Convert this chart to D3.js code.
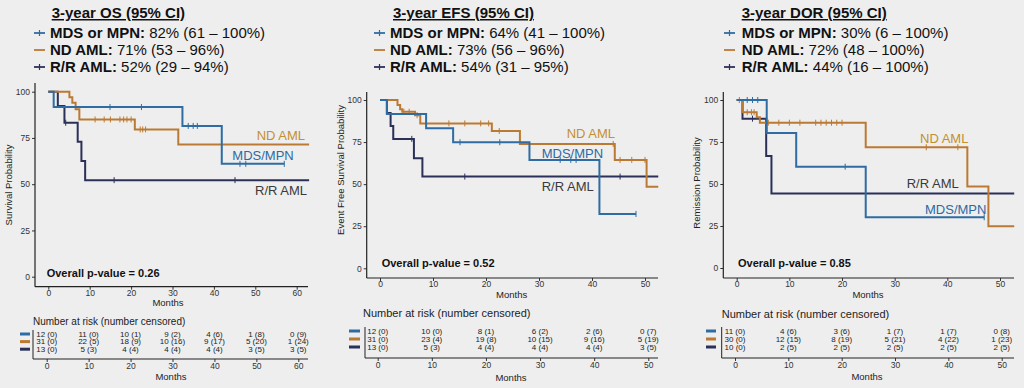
<!DOCTYPE html>
<html>
<head>
<meta charset="utf-8">
<script src="https://cdn.jsdelivr.net/npm/d3@7"></script>
<style>
  body { margin: 0; background: #eeeeee; font-family: "Liberation Sans", Arial, sans-serif; }
  svg { display: block; }
</style>
</head>
<body>
<div id="chart"></div>
<script>
// groups and colours
const headerNames = ["MDS or MPN", "ND AML", "R/R AML"];
const curveLabels = ["MDS/MPN", "ND AML", "R/R AML"];
const colors = ["#2e6ca3", "#bb7a33", "#2b3058"];
const labelColors = ["#2d6aa3", "#c4902f", "#3a3a3a"];

// ---- OS ----
const osEstimates = ["82% (61 \u2013 100%)", "71% (53 \u2013 96%)", "52% (29 \u2013 94%)"];
const osMds = [[0, 100], [1.3, 91.7], [32.4, 81.5], [41.9, 61]];
const osNd = [[0, 100], [5.1, 97], [5.8, 94], [6.6, 90.5], [7.5, 85], [20.9, 79.6], [31.4, 71.5]];
const osRr = [[0, 100], [2.3, 92.3], [3.9, 83.2], [7.1, 73], [8.0, 62.5], [8.9, 52.2]];
const osEnd = [57, 63, 63];
const osMdsCens = [14.9, 22.5, 33.8, 35, 36, 46.3, 47.7, 57];
const osNdCens = [11.3, 13.5, 15, 17.3, 18.2, 19, 20, 22.2, 22.8, 23.5];
const osRrCens = [4.2, 15.9, 45.1];
const osTicks = [0, 10, 20, 30, 40, 50, 60];
const osRiskMds = ["12 (0)", "11 (0)", "10 (1)", "9 (2)", "4 (6)", "1 (8)", "0 (9)"];
const osRiskNd = ["31 (0)", "22 (5)", "18 (9)", "10 (16)", "9 (17)", "5 (20)", "1 (24)"];
const osRiskRr = ["13 (0)", "5 (3)", "4 (4)", "4 (4)", "4 (4)", "3 (5)", "3 (5)"];

// ---- EFS ----
const efsEstimates = ["64% (41 \u2013 100%)", "73% (56 \u2013 96%)", "54% (31 \u2013 95%)"];
const efsMds = [[0, 100], [1.3, 91.7], [8.7, 83.2], [13.8, 74.9], [28.2, 64.4], [41.4, 32.3]];
const efsNd = [[0, 100], [3.3, 97], [3.8, 94.5], [4.2, 93], [6.6, 91], [7.6, 86.1], [21.1, 81.6], [26.4, 73.9], [44.3, 64.4], [50.3, 48.5]];
const efsRr = [[0, 100], [1.3, 92.3], [2.0, 84.6], [2.5, 76.9], [6.4, 65.4], [8.0, 54.5]];
const efsEnd = [48.3, 52.5, 52.5];
const efsMdsCens = [15.1, 22.6, 34, 36, 37, 48.3];
const efsNdCens = [4.5, 5.5, 7.0, 13, 16, 19, 20.5, 22.5, 44, 45.3, 47.5, 50];
const efsRrCens = [6.0, 16, 45.3];
const efsTicks = [0, 10, 20, 30, 40, 50];
const efsRiskMds = ["12 (0)", "10 (0)", "8 (1)", "6 (2)", "2 (6)", "0 (7)"];
const efsRiskNd = ["31 (0)", "23 (4)", "19 (8)", "10 (15)", "9 (16)", "5 (19)"];
const efsRiskRr = ["13 (0)", "5 (3)", "4 (4)", "4 (4)", "4 (4)", "3 (5)"];

// ---- DOR ----
const dorEstimates = ["30% (6 \u2013 100%)", "72% (48 \u2013 100%)", "44% (16 \u2013 100%)"];
const dorMds = [[0, 100], [5.7, 80.4], [11.3, 60.3], [24.5, 30.2]];
const dorNd = [[0, 100], [1.1, 92.7], [3.8, 89.7], [4.4, 86.5], [24.5, 71.9], [43.8, 48.5], [47.8, 24.8]];
const dorRr = [[0, 100], [1.1, 88.9], [5.6, 66.7], [6.6, 44.4]];
const dorEnd = [47, 52.7, 52.7];
const dorMdsCens = [2, 3, 4, 20.6, 47];
const dorNdCens = [0.5, 2, 2.8, 3.3, 6, 8, 10, 12, 15, 16, 17, 18, 19, 20, 36, 42];
const dorRrCens = [3.0];
const dorTicks = [0, 10, 20, 30, 40, 50];
const dorRiskMds = ["11 (0)", "4 (6)", "3 (6)", "1 (7)", "1 (7)", "0 (8)"];
const dorRiskNd = ["30 (0)", "12 (15)", "8 (19)", "5 (21)", "4 (22)", "1 (23)"];
const dorRiskRr = ["10 (0)", "2 (5)", "2 (5)", "2 (5)", "2 (5)", "2 (5)"];

const yTicks = [0, 25, 50, 75, 100];

const svg = d3.select("#chart").append("svg")
  .attr("width", 1024).attr("height", 388)
  .style("font-family", '"Liberation Sans", Arial, sans-serif');

svg.append("rect").attr("width", 1024).attr("height", 388).attr("fill", "#eeeeee");

const panels = [
  {
    title: "3-year OS (95% CI)", est: osEstimates,
    curves: [osMds, osNd, osRr], ends: osEnd, cens: [osMdsCens, osNdCens, osRrCens],
    risk: [osRiskMds, osRiskNd, osRiskRr], ticks: osTicks,
    ylab: "Survival Probability", pval: "Overall p-value = 0.26",
    L: { titleX: 51.7, hx: 50, symX: 33, x0: 48.3, x1: 296.7, left: 35, right: 308, top: 83, bot: 286.7,
         y100: 91.7, y0: 276.7, ylabX: 9, ylabY: 185, pX: 46.7, pY: 272.7, monthsX: 168, monthsY: 303,
         labels: [[232.3, 155], [256.7, 135], [255, 190]],
         rTitleX: 33, rTitleY: 321.7, rTitleFs: 10, rRows: [334, 341.6, 349.2], rAxisY: 359,
         rLeft: 33, rRight: 308, rx0: 46.7, rx1: 298.3, bar: [20, 30], rMonthsX: 171, rMonthsY: 377 }
  },
  {
    title: "3-year EFS (95% CI)", est: efsEstimates,
    curves: [efsMds, efsNd, efsRr], ends: efsEnd, cens: [efsMdsCens, efsNdCens, efsRrCens],
    risk: [efsRiskMds, efsRiskNd, efsRiskRr], ticks: efsTicks,
    ylab: "Event Free Survival Probability", pval: "Overall p-value = 0.52",
    L: { titleX: 393, hx: 390, symX: 373, x0: 380, x1: 645, left: 366.7, right: 658, top: 92, bot: 278,
         y100: 100, y0: 268.3, ylabX: 341, ylabY: 170, pX: 381.7, pY: 262.7, monthsX: 511.7, monthsY: 295,
         labels: [[541.7, 153], [566.7, 133], [541.7, 186.7]],
         rTitleX: 363, rTitleY: 313.3, rTitleFs: 11, rRows: [331, 339, 347], rAxisY: 358,
         rLeft: 365, rRight: 658, rx0: 377.7, rx1: 648.3, bar: [349, 360], rMonthsX: 511, rMonthsY: 378 }
  },
  {
    title: "3-year DOR (95% CI)", est: dorEstimates,
    curves: [dorMds, dorNd, dorRr], ends: dorEnd, cens: [dorMdsCens, dorNdCens, dorRrCens],
    risk: [dorRiskMds, dorRiskNd, dorRiskRr], ticks: dorTicks,
    ylab: "Remission Probability", pval: "Overall p-value = 0.85",
    L: { titleX: 741.7, hx: 741.7, symX: 723, x0: 736.7, x1: 1000, left: 723.3, right: 1014, top: 92, bot: 278,
         y100: 100, y0: 268, ylabX: 697, ylabY: 183, pX: 738, pY: 262.7, monthsX: 868, monthsY: 295,
         labels: [[925, 209], [920, 138], [906.7, 183]],
         rTitleX: 721.7, rTitleY: 314, rTitleFs: 11, rRows: [331, 339, 347], rAxisY: 358,
         rLeft: 721.7, rRight: 1014, rx0: 735, rx1: 1001.7, bar: [706, 716], rMonthsX: 867, rMonthsY: 377 }
  }
];

function survAt(steps, t) {
  let s = steps[0][1];
  steps.forEach(d => { if (d[0] <= t) s = d[1]; });
  return s;
}

function styleAxis(sel, fs) {
  sel.select(".domain").remove();
  sel.selectAll(".tick line").attr("stroke", "#333").attr("stroke-width", 1);
  sel.selectAll(".tick text").attr("fill", "#333").style("font-size", fs + "px")
    .style("font-family", '"Liberation Sans", Arial, sans-serif');
}

panels.forEach(function(p) {
  const L = p.L;
  const g = svg.append("g");
  const tmax = p.ticks[p.ticks.length - 1];

  // header
  g.append("text")
    .attr("x", L.titleX).attr("y", 18)
    .style("font-size", "15px").style("font-weight", "bold")
    .style("text-decoration", "underline")
    .attr("fill", "#111")
    .text(p.title);

  [33, 50, 67].forEach(function(cy, i) {
    g.append("line")
      .attr("x1", L.symX + 1).attr("x2", L.symX + 12).attr("y1", cy).attr("y2", cy)
      .attr("stroke", colors[i]).attr("stroke-width", 1.8);
    if (i !== 1) {
      g.append("line")
        .attr("x1", L.symX + 6.5).attr("x2", L.symX + 6.5).attr("y1", cy - 3).attr("y2", cy + 3)
        .attr("stroke", colors[i]).attr("stroke-width", 1.2);
    }
    const t = g.append("text")
      .attr("x", L.hx).attr("y", cy + 5.3)
      .style("font-size", "15px").attr("fill", "#111");
    t.append("tspan").style("font-weight", "bold").text(headerNames[i] + ":");
    t.append("tspan").text(" " + p.est[i]);
  });

  // scales
  const x = d3.scaleLinear().domain([0, tmax]).range([L.x0, L.x1]);
  const y = d3.scaleLinear().domain([0, 100]).range([L.y0, L.y100]);

  // axes
  const ax = g.append("g").attr("transform", `translate(0,${L.bot})`)
    .call(d3.axisBottom(x).tickValues(p.ticks).tickSize(3).tickPadding(0).tickSizeOuter(0));
  styleAxis(ax, 8.5);
  const ay = g.append("g").attr("transform", `translate(${L.left},0)`)
    .call(d3.axisLeft(y).tickValues(yTicks).tickSize(3).tickPadding(2).tickSizeOuter(0));
  styleAxis(ay, 8.5);

  g.append("line").attr("x1", L.left).attr("x2", L.right).attr("y1", L.bot).attr("y2", L.bot)
    .attr("stroke", "#222").attr("stroke-width", 1.2);
  g.append("line").attr("x1", L.left).attr("x2", L.left).attr("y1", L.top).attr("y2", L.bot)
    .attr("stroke", "#222").attr("stroke-width", 1.2);

  g.append("text")
    .attr("transform", `translate(${L.ylabX},${L.ylabY}) rotate(-90)`)
    .attr("text-anchor", "middle").attr("dy", "0.35em")
    .style("font-size", "9.5px").attr("fill", "#222")
    .text(p.ylab);

  g.append("text")
    .attr("x", L.monthsX).attr("y", L.monthsY).attr("dy", "0.35em")
    .attr("text-anchor", "middle").style("font-size", "9.5px").attr("fill", "#222")
    .text("Months");

  // curves
  const line = d3.line().x(d => x(d[0])).y(d => y(d[1])).curve(d3.curveStepAfter);
  [2, 1, 0].forEach(function(i) {
    const steps = p.curves[i];
    const pts = steps.concat([[p.ends[i], steps[steps.length - 1][1]]]);
    g.append("path")
      .datum(pts)
      .attr("fill", "none")
      .attr("stroke", colors[i])
      .attr("stroke-width", 2)
      .attr("d", line);
    g.selectAll(null)
      .data(p.cens[i])
      .join("line")
        .attr("x1", d => x(d)).attr("x2", d => x(d))
        .attr("y1", d => y(survAt(steps, d)) - 3)
        .attr("y2", d => y(survAt(steps, d)) + 3)
        .attr("stroke", colors[i]).attr("stroke-width", 1);
  });

  // curve labels
  L.labels.forEach(function(pos, i) {
    g.append("text")
      .attr("x", pos[0]).attr("y", pos[1]).attr("dy", "0.35em")
      .style("font-size", "13px").attr("fill", labelColors[i])
      .text(curveLabels[i]);
  });

  g.append("text")
    .attr("x", L.pX).attr("y", L.pY).attr("dy", "0.35em")
    .style("font-size", "11px").style("font-weight", "bold").attr("fill", "#111")
    .text(p.pval);

  // risk table
  const rx = d3.scaleLinear().domain([0, tmax]).range([L.rx0, L.rx1]);
  g.append("text")
    .attr("x", L.rTitleX).attr("y", L.rTitleY).attr("dy", "0.35em")
    .style("font-size", L.rTitleFs + "px").attr("fill", "#222")
    .text("Number at risk (number censored)");

  p.risk.forEach(function(row, i) {
    g.append("line")
      .attr("x1", L.bar[0]).attr("x2", L.bar[1])
      .attr("y1", L.rRows[i]).attr("y2", L.rRows[i])
      .attr("stroke", colors[i]).attr("stroke-width", 3);
    g.selectAll(null)
      .data(row)
      .join("text")
        .attr("x", (d, j) => rx(p.ticks[j]))
        .attr("y", L.rRows[i]).attr("dy", "0.35em")
        .attr("text-anchor", "middle")
        .style("font-size", "8px").attr("fill", "#222")
        .text(d => d);
  });

  const rax = g.append("g").attr("transform", `translate(0,${L.rAxisY})`)
    .call(d3.axisBottom(rx).tickValues(p.ticks).tickSize(3).tickPadding(1).tickSizeOuter(0));
  styleAxis(rax, 8.5);
  g.append("line").attr("x1", L.rLeft).attr("x2", L.rRight).attr("y1", L.rAxisY).attr("y2", L.rAxisY)
    .attr("stroke", "#222").attr("stroke-width", 1.2);
  g.append("line").attr("x1", L.rLeft).attr("x2", L.rLeft).attr("y1", L.rRows[0] - 4).attr("y2", L.rAxisY)
    .attr("stroke", "#222").attr("stroke-width", 1);

  g.append("text")
    .attr("x", L.rMonthsX).attr("y", L.rMonthsY).attr("dy", "0.35em")
    .attr("text-anchor", "middle").style("font-size", "9.5px").attr("fill", "#222")
    .text("Months");
});
</script>
</body>
</html>
